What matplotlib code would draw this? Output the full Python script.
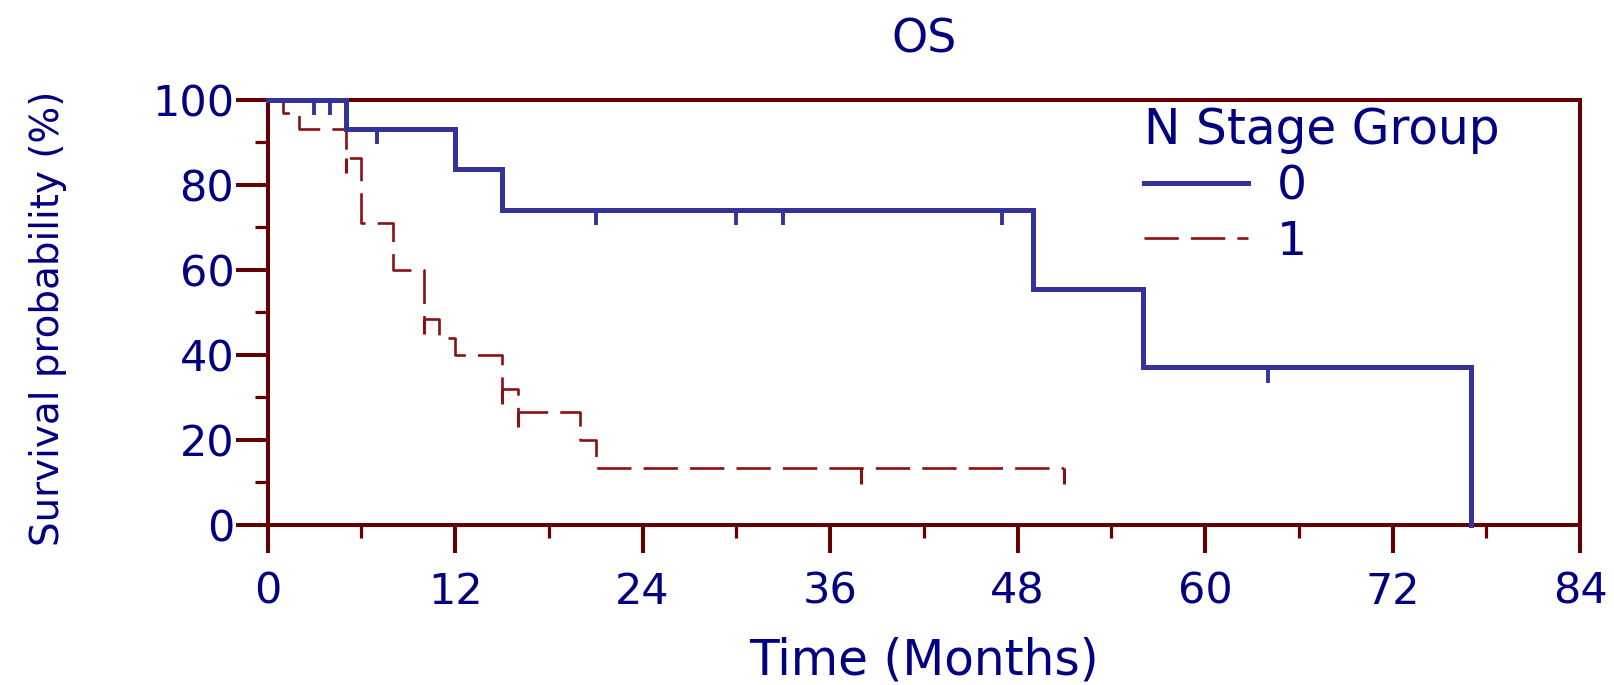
import matplotlib
matplotlib.use("Agg")
import matplotlib.pyplot as plt
from matplotlib.lines import Line2D
import numpy as np

# ---- data ----
g0_times = [0, 5, 12, 15, 49, 56, 77]
g0_surv = [100, 93.1, 83.7, 74.1, 55.6, 37.1, 0]
g0_cens_times = [3, 4, 7, 21, 30, 33, 47, 64]
g0_cens_surv = [100, 100, 93.1, 74.1, 74.1, 74.1, 74.1, 37.1]

g1_times = [0, 1, 2, 5, 6, 8, 10, 11, 12, 15, 16, 20, 21, 51]
g1_surv = [100, 96.8, 93.1, 86.3, 71.0, 60.0, 48.5, 43.9, 40.0, 32.1, 26.6, 20.0, 13.3, 13.3]
g1_cens_times = [5, 10, 15, 16, 38, 51]
g1_cens_surv = [86.3, 48.5, 32.1, 26.6, 13.3, 13.3]

group_labels = ["0", "1"]
x_ticks = list(range(0, 85, 12))
y_ticks = list(range(0, 101, 20))

# ---- style ----
TXT = "#000080"
AX = "#660000"
BLUE = "#333399"
RED = "#8B1010"
FONT = "DejaVu Sans"
plt.rcParams["font.family"] = [FONT]

fig = plt.figure(figsize=(16.14, 6.85), dpi=100)
ax = fig.add_axes([0.1658, 0.2336, 0.8132, 0.6207])

ax.step(g0_times, g0_surv, where="post", color=BLUE, lw=3.6,
        solid_joinstyle="miter", clip_on=False, zorder=5)
ax.step(g1_times, g1_surv, where="post", color=RED, lw=1.9,
        linestyle=(0, (13, 4.6)), clip_on=False, zorder=4)

tick_len = 3.6  # censor mark length in % units
ax.vlines(g0_cens_times, np.array(g0_cens_surv) - tick_len, g0_cens_surv,
          color=BLUE, lw=2.8, zorder=5, clip_on=False)
ax.vlines(g1_cens_times, np.array(g1_cens_surv) - tick_len, g1_cens_surv,
          color=RED, lw=2.2, zorder=4, clip_on=False)

ax.set_xlim(0, 84)
ax.set_ylim(0, 100)
ax.set_xticks(x_ticks)
ax.set_xticks(np.arange(6, 84, 12), minor=True)
ax.set_yticks(y_ticks)
ax.set_yticks(np.arange(10, 100, 20), minor=True)

for s in ax.spines.values():
    s.set_color(AX)
    s.set_linewidth(2.9)
    s.set_zorder(3)

ax.tick_params(axis="both", which="both", direction="out", color=AX,
               labelcolor=TXT, top=False, right=False)
ax.tick_params(axis="y", which="major", length=23, width=2.9, labelsize=31, pad=1)
ax.tick_params(axis="x", which="major", length=20, width=2.9, labelsize=31, pad=13)
ax.tick_params(axis="both", which="minor", length=9.5, width=2.3)

ax.set_title("OS", color=TXT, fontsize=33, pad=34)
ax.set_xlabel("Time (Months)", color=TXT, fontsize=35)
ax.set_ylabel("Survival probability (%)", color=TXT, fontsize=28)
ax.xaxis.set_label_coords(0.5, -0.262)
ax.yaxis.set_label_coords(-0.153, 0.485)

handles = [Line2D([], [], color=BLUE, lw=3.6),
           Line2D([], [], color=RED, lw=1.9, linestyle=(0, (13, 4.6)))]
leg = ax.legend(handles, group_labels, title="N Stage Group", loc="upper left",
                bbox_to_anchor=(0.668, 0.985), frameon=False, fontsize=34,
                title_fontsize=35, handlelength=2.2, handletextpad=0.6,
                labelspacing=0.22, alignment="left", borderaxespad=0,
                borderpad=0, labelcolor=TXT)
leg.get_title().set_color(TXT)

fig.savefig("out.png", dpi=100)
